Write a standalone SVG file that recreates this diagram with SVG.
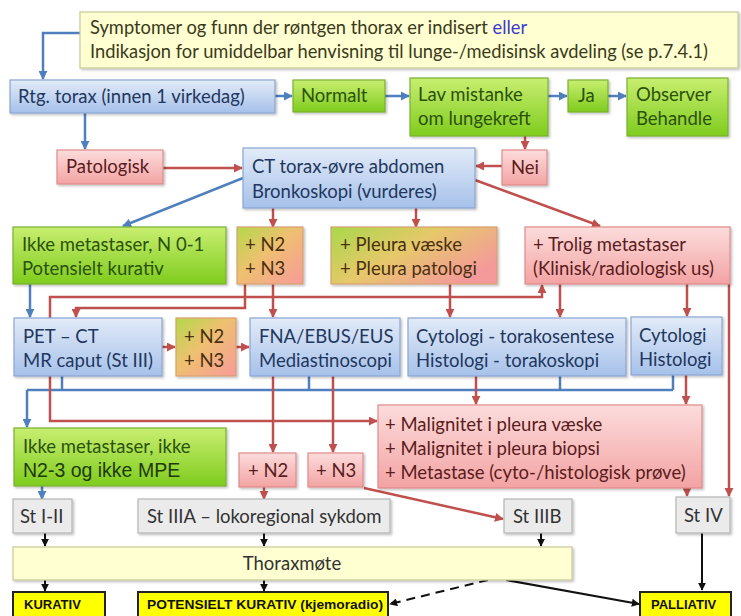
<svg xmlns="http://www.w3.org/2000/svg" width="741" height="616" viewBox="0 0 741 616">
<defs>
<linearGradient id="gBlue" x1="0" y1="0" x2="0" y2="1"><stop offset="0" stop-color="#e2ebf8"/><stop offset="1" stop-color="#a6c1ea"/></linearGradient>
<linearGradient id="gGreen" x1="0" y1="0" x2="0" y2="1"><stop offset="0" stop-color="#c8ee70"/><stop offset="1" stop-color="#7fcc1e"/></linearGradient>
<linearGradient id="gPink" x1="0" y1="0" x2="0" y2="1"><stop offset="0" stop-color="#fcdcdc"/><stop offset="1" stop-color="#f3a3a3"/></linearGradient>
<linearGradient id="gMix" x1="0" y1="0" x2="1" y2="1"><stop offset="0" stop-color="#b4d94a"/><stop offset="0.45" stop-color="#eec070"/><stop offset="1" stop-color="#f89a9a"/></linearGradient>
<linearGradient id="gMix2" x1="0" y1="0" x2="1" y2="0.6"><stop offset="0" stop-color="#a8d84a"/><stop offset="0.5" stop-color="#e6c86a"/><stop offset="1" stop-color="#f49a9a"/></linearGradient>
<filter id="sh" x="-5%" y="-10%" width="115%" height="130%"><feDropShadow dx="1.5" dy="1.5" stdDeviation="1.2" flood-color="#000" flood-opacity="0.25"/></filter>
<marker id="aB" viewBox="0 0 10 10" refX="9" refY="5" markerWidth="9" markerHeight="9" markerUnits="userSpaceOnUse" orient="auto"><path d="M0,0 L10,5 L0,10 Z" fill="#4f80bd"/></marker>
<marker id="aR" viewBox="0 0 10 10" refX="9" refY="5" markerWidth="9" markerHeight="9" markerUnits="userSpaceOnUse" orient="auto"><path d="M0,0 L10,5 L0,10 Z" fill="#c0504d"/></marker>
<marker id="aK" viewBox="0 0 10 10" refX="9" refY="5" markerWidth="8" markerHeight="8" markerUnits="userSpaceOnUse" orient="auto"><path d="M0,0 L10,5 L0,10 Z" fill="#111"/></marker>
</defs>
<style>
text{font-family:Lato,"Open Sans","DejaVu Sans",sans-serif;font-size:18.5px}
.blue{fill:url(#gBlue);stroke:#8aa6d4;stroke-width:1.2;filter:url(#sh)}
.green{fill:url(#gGreen);stroke:#78b030;stroke-width:1.2;filter:url(#sh)}
.pink{fill:url(#gPink);stroke:#e08a8a;stroke-width:1.2;filter:url(#sh)}
.mix{fill:url(#gMix);stroke:#d8a070;stroke-width:1.2;filter:url(#sh)}
.mix2{fill:url(#gMix2);stroke:#d8a070;stroke-width:1.2;filter:url(#sh)}
.grey{fill:#ebebeb;stroke:#b5b5b5;stroke-width:1.2;filter:url(#sh)}
.note{fill:#ffffd2;stroke:#c8c89a;stroke-width:1.2;filter:url(#sh)}
.yel{fill:#ffff00;stroke:#222;stroke-width:2}
.tb{fill:#22375e}
.tg{fill:#2b520a}
.tp{fill:#5a1c1c}
.tmix{fill:#4a3010}
.tk{fill:#333}
.tn{fill:#3a3a1a;font-size:18.3px}
.ty{font-family:"Liberation Sans",Arial,sans-serif;font-weight:bold;font-size:13px;fill:#111}
.cb{fill:none;stroke:#4f80bd;stroke-width:2.5}
.cr{fill:none;stroke:#c0504d;stroke-width:2.5}
.ck{fill:none;stroke:#111;stroke-width:2}
</style>
<g id="connectors">
<path class="cb" d="M80 33 H43 V79" marker-end="url(#aB)"/>
<path class="cb" d="M275 96 H292" marker-end="url(#aB)"/>
<path class="cb" d="M385 96 H409" marker-end="url(#aB)"/>
<path class="cb" d="M548 96 H567" marker-end="url(#aB)"/>
<path class="cb" d="M608 96 H626" marker-end="url(#aB)"/>
<path class="cb" d="M85 113 V149" marker-end="url(#aB)"/>
<path class="cb" d="M243 178 L123 226" marker-end="url(#aB)"/>
<path class="cb" d="M30 284 V317" marker-end="url(#aB)"/>
<path class="cb" d="M62 376 V390 M27 390 H673 M309 376 V390 M560 376 V390 M673 375 V390"/>
<path class="cb" d="M27 390 V427" marker-end="url(#aB)"/>
<path class="cb" d="M42 486 V499" marker-end="url(#aB)"/>
<path class="cr" d="M163 168 H242" marker-end="url(#aR)"/>
<path class="cr" d="M525 136 V149" marker-end="url(#aR)"/>
<path class="cr" d="M502 166 H476" marker-end="url(#aR)"/>
<path class="cr" d="M273 208 V227" marker-end="url(#aR)"/>
<path class="cr" d="M416 208 V227" marker-end="url(#aR)"/>
<path class="cr" d="M475 180 L600 226" marker-end="url(#aR)"/>
<path class="cr" d="M245 284 V308 H76 V317" marker-end="url(#aR)"/>
<path class="cr" d="M50 318 V297 H542 V285" marker-end="url(#aR)"/>
<path class="cr" d="M273 284 V317" marker-end="url(#aR)"/>
<path class="cr" d="M450 284 V317" marker-end="url(#aR)"/>
<path class="cr" d="M560 284 V317" marker-end="url(#aR)"/>
<path class="cr" d="M687 284 V316" marker-end="url(#aR)"/>
<path class="cr" d="M729 284 V496" marker-end="url(#aR)"/>
<path class="cr" d="M162 347 H175" marker-end="url(#aR)"/>
<path class="cr" d="M236 347 H249" marker-end="url(#aR)"/>
<path class="cr" d="M50 376 V421 H377" marker-end="url(#aR)"/>
<path class="cr" d="M273 376 V452" marker-end="url(#aR)"/>
<path class="cr" d="M333 376 V452" marker-end="url(#aR)"/>
<path class="cr" d="M476 376 V404" marker-end="url(#aR)"/>
<path class="cr" d="M686 375 V404" marker-end="url(#aR)"/>
<path class="cr" d="M264 487 V499" marker-end="url(#aR)"/>
<path class="cr" d="M364 488 L503 519" marker-end="url(#aR)"/>
<path class="cr" d="M687 488 V496" marker-end="url(#aR)"/>
<path class="ck" d="M45 533 V546" marker-end="url(#aK)"/>
<path class="ck" d="M264 533 V546" marker-end="url(#aK)"/>
<path class="ck" d="M541 533 V546" marker-end="url(#aK)"/>
<path class="ck" d="M45 580 V591" marker-end="url(#aK)"/>
<path class="ck" d="M264 580 V591" marker-end="url(#aK)"/>
<path class="ck" d="M702 533 V590" stroke-width="2.5" marker-end="url(#aK)"/>
<path class="ck" d="M506 580 L639 604" marker-end="url(#aK)"/>
<path class="ck" d="M488 580 L390 604" stroke-width="3" stroke-dasharray="9 6" marker-end="url(#aK)"/>
</g>
<g id="n-indikasjon"><rect class="note" x="80" y="12" width="658" height="56"/><text class="tn" x="90" y="34">Symptomer og funn der røntgen thorax er indisert <tspan fill="#3b3bd0">eller</tspan></text><text class="tn" x="90" y="58">Indikasjon for umiddelbar henvisning til lunge-/medisinsk avdeling (se p.7.4.1)</text></g>
<g id="n-rtg"><rect class="blue" x="10" y="80" width="265" height="33"/><text class="tb" x="18" y="103">Rtg. torax (innen 1 virkedag)</text></g>
<g id="n-normalt"><rect class="green" x="293" y="80" width="92" height="32"/><text class="tg" x="301" y="102">Normalt</text></g>
<g id="n-lav"><rect class="green" x="410" y="78" width="138" height="58"/><text class="tg" x="418" y="101">Lav mistanke</text><text class="tg" x="418" y="125">om lungekreft</text></g>
<g id="n-ja"><rect class="green" x="568" y="80" width="40" height="32"/><text class="tg" x="578" y="102">Ja</text></g>
<g id="n-observer"><rect class="green" x="627" y="78" width="101" height="58"/><text class="tg" x="636" y="101">Observer</text><text class="tg" x="636" y="125">Behandle</text></g>
<g id="n-patologisk"><rect class="pink" x="57" y="150" width="106" height="34"/><text class="tp" x="66" y="173">Patologisk</text></g>
<g id="n-ct"><rect class="blue" x="243" y="148" width="232" height="60"/><text class="tb" x="252" y="173">CT torax-øvre abdomen</text><text class="tb" x="252" y="198">Bronkoskopi (vurderes)</text></g>
<g id="n-nei"><rect class="pink" x="502" y="150" width="45" height="35"/><text class="tp" x="511" y="174">Nei</text></g>
<g id="n-ikke1"><rect class="green" x="13" y="227" width="213" height="57"/><text class="tg" x="22" y="251">Ikke metastaser, N 0-1</text><text class="tg" x="22" y="275">Potensielt kurativ</text></g>
<g id="n-n2n3a"><rect class="mix" x="237" y="227" width="66" height="57"/><text class="tmix" x="245" y="251">+ N2</text><text class="tmix" x="245" y="275">+ N3</text></g>
<g id="n-pleura"><rect class="mix2" x="331" y="227" width="166" height="57"/><text class="tmix" x="340" y="251">+ Pleura væske</text><text class="tmix" x="340" y="275">+ Pleura patologi</text></g>
<g id="n-trolig"><rect class="pink" x="525" y="227" width="205" height="57"/><text class="tp" x="533" y="251">+ Trolig metastaser</text><text class="tp" x="533" y="275">(Klinisk/radiologisk us)</text></g>
<g id="n-pet"><rect class="blue" x="14" y="318" width="148" height="58"/><text class="tb" x="23" y="343">PET – CT</text><text class="tb" x="23" y="367">MR caput (St III)</text></g>
<g id="n-n2n3b"><rect class="mix" x="176" y="318" width="60" height="58"/><text class="tmix" x="184" y="343">+ N2</text><text class="tmix" x="184" y="367">+ N3</text></g>
<g id="n-fna"><rect class="blue" x="250" y="318" width="150" height="58"/><text class="tb" x="259" y="343">FNA/EBUS/EUS</text><text class="tb" x="259" y="367">Mediastinoscopi</text></g>
<g id="n-cyto1"><rect class="blue" x="408" y="318" width="218" height="58"/><text class="tb" x="416" y="343">Cytologi - torakosentese</text><text class="tb" x="416" y="367">Histologi - torakoskopi</text></g>
<g id="n-cyto2"><rect class="blue" x="631" y="317" width="91" height="58"/><text class="tb" x="639" y="342">Cytologi</text><text class="tb" x="639" y="366">Histologi</text></g>
<g id="n-malignitet"><rect class="pink" x="378" y="405" width="324" height="83"/><text class="tp" x="385" y="431" font-size="19.5">+ Malignitet i pleura væske</text><text class="tp" x="385" y="455" font-size="19.5">+ Malignitet i pleura biopsi</text><text class="tp" x="385" y="479" font-size="19.5">+ Metastase (cyto-/histologisk prøve)</text></g>
<g id="n-ikke2"><rect class="green" x="14" y="428" width="212" height="58"/><text class="tg" x="23" y="453" font-size="20">Ikke metastaser, ikke</text><text x="23" y="477" fill="#1e3a05" style="font-family:'Liberation Sans',Arial,sans-serif;font-size:19.5px">N2-3 og ikke MPE</text></g>
<g id="n-n2c"><rect class="pink" x="239" y="453" width="57" height="34"/><text class="tp" x="248" y="477">+ N2</text></g>
<g id="n-n3c"><rect class="pink" x="308" y="453" width="55" height="34"/><text class="tp" x="316" y="477">+ N3</text></g>
<g id="n-st12"><rect class="grey" x="13" y="499" width="59" height="34"/><text class="tk" x="20" y="523">St I-II</text></g>
<g id="n-st3a"><rect class="grey" x="138" y="499" width="252" height="34"/><text class="tk" x="147" y="523">St IIIA – lokoregional sykdom</text></g>
<g id="n-st3b"><rect class="grey" x="504" y="499" width="68" height="34"/><text class="tk" x="513" y="523">St IIIB</text></g>
<g id="n-st4"><rect class="grey" x="676" y="497" width="54" height="36"/><text class="tk" x="684" y="522">St IV</text></g>
<g id="n-thorax"><rect class="note" x="13" y="547" width="559" height="33"/><text class="tk" x="292" y="570" text-anchor="middle" fill="#444">Thoraxmøte</text></g>
<g id="n-kurativ"><rect class="yel" x="13" y="592" width="92" height="32"/><text class="ty" x="24" y="609">KURATIV</text></g>
<g id="n-potensielt"><rect class="yel" x="138" y="592" width="250" height="32"/><text class="ty" x="147" y="609" textLength="236" lengthAdjust="spacingAndGlyphs">POTENSIELT KURATIV (kjemoradio)</text></g>
<g id="n-palliativ"><rect class="yel" x="640" y="592" width="91" height="32"/><text class="ty" x="651" y="609">PALLIATIV</text></g>
</svg>
